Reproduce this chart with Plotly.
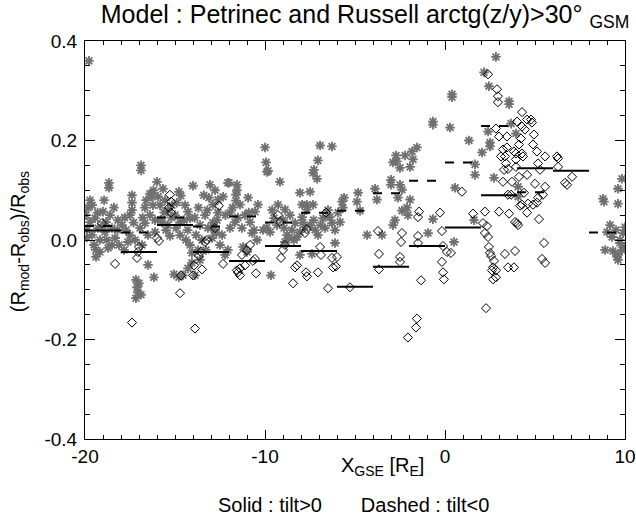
import plotly.graph_objects as go

# ---- data ----
gray_x = [-19.78, -19.83, -19.94, -19.72, -19.89, -19.61, -19.44, -19.28, -19.17, -19.5, -19.0, -18.83, -18.89,
          -18.67, -18.67, -18.61, -18.5, -18.72, -19.17, -19.39, -18.33, -18.17, -18.39, -19.72, -18.11, -18.94,
          -17.39, -17.39, -17.39, -17.94, -17.72, -17.5, -17.22, -17.61, -16.94, -16.67, -16.83, -16.5, -16.39,
          -16.28, -16.89, -16.89, -16.67, -16.39, -16.11, -16.22, -17.17, -17.11, -17.06, -17.17, -17.0, -16.89,
          -16.5, -16.17, -16.11, -17.83,
          -16.0, -15.67, -15.94, -15.83, -15.56, -15.39, -15.17, -15.0, -14.78, -14.67, -14.44, -14.28, -14.17,
          -14.72, -14.94, -15.72, -15.5, -15.28, -15.06, -14.78, -14.56, -14.28, -14.06, -14.72, -14.39, -14.06,
          -14.17,
          -14.0, -13.11, -12.33, -12.0, -13.06, -12.78, -12.61, -12.61, -12.67, -12.39, -12.5, -12.89, -13.33,
          -13.61, -13.83, -13.5, -13.72, -13.17, -12.94, -13.89, -13.61, -13.28, -12.83, -12.22, -12.06,
          -12.06, -11.56, -11.56, -11.61, -11.61, -11.94, -11.67, -11.94, -11.28, -10.72, -10.44, -11.22, -11.0,
          -10.11, -11.39, -11.11, -10.83, -10.56, -10.39, -10.94,
          -9.89, -10.0, -9.94, -9.83, -9.17, -9.5, -9.33, -8.94, -8.78, -8.67, -8.89, -8.39, -8.22, -8.33, -8.06,
          -8.06, -8.06, -9.67, -9.28, -8.89, -9.72, -8.61,
          -7.94, -7.67, -7.33, -7.67, -7.94, -7.5, -7.33, -7.11, -7.28, -6.94, -6.28, -7.06, -7.22, -7.06, -7.78,
          -7.5, -6.78, -6.39, -6.28, -6.67, -6.11, -7.39, -6.11,
          -5.61, -5.72, -5.83, -5.67, -5.94, -4.83, -4.89, -4.72, -4.33,
          -3.89, -3.78, -3.5, -3.0, -3.0, -2.89, -2.67, -2.72, -2.5, -2.5, -2.39, -2.61, -2.78, -2.89, -2.39,
          -2.11, -2.06, -2.22,
          -1.83, -1.56, -1.78, -1.94, -1.94, -0.94, -0.67, -0.67, -0.67,
          0.28, 0.39, 0.39, 0.56, 0.5, 1.33, 1.61, 1.67, 1.67,
          2.06, 2.17, 2.44, 2.83, 2.5, 2.5, 2.39, 2.72, 3.56, 3.56, 3.67, 3.94,
          4.06, 4.06,
          8.78, 8.83, 9.61, 9.83, 9.61, 9.17, 9.0, 9.28, 8.89, 9.33, 9.61, 9.72, 9.89, 10.0, 9.83, 9.56, 9.72,
          9.94, 9.5, 9.61,
          -19.6, -19.3, -19.0, -18.8, -18.5, -19.9, -19.4, -18.2, -17.8, -17.5, -17.3, -16.8, -16.6, -16.2,
          -15.8, -15.6, -15.4, -15.2, -14.9, -14.5, -14.3, -13.9, -13.7, -13.4, -13.2, -12.9, -12.7, -12.2,
          -11.8, -11.5, -10.9, -10.6, -9.9, -9.6, -9.0, -8.5, -7.9, -7.3, -6.9, -6.5]
gray_y = [0.36, 0.065, 0.05, 0.036, 0.02, 0.01, 0.044, 0.024, 0.0, -0.01, 0.057, 0.036, 0.016,
          0.115, 0.105, 0.05, 0.024, -0.016, -0.024, -0.034, 0.004, 0.04, 0.065, 0.08, -0.01, 0.08,
          0.09, 0.075, 0.06, 0.03, 0.02, 0.01, 0.0, -0.004, 0.024, 0.034, -0.01, 0.01, 0.093,
          0.087, 0.15, 0.14, 0.065, 0.05, 0.04, 0.07, -0.08, -0.095, -0.105, -0.117, -0.087, -0.11,
          -0.05, -0.075, 0.016, -0.02,
          0.117, 0.103, 0.087, 0.07, 0.08, 0.06, 0.07, 0.05, 0.097, 0.089, 0.07, 0.057, 0.044,
          0.036, 0.024, 0.036, 0.02, 0.008, -0.069, -0.075, -0.071, -0.057, -0.046, 0.01, 0.0, -0.026,
          -0.01,
          0.109, 0.085, 0.087, 0.115, 0.111, 0.1, 0.081, 0.055, 0.04, 0.01, -0.01, 0.071, 0.05,
          0.03, 0.01, 0.0, -0.02, 0.024, 0.004, -0.071, -0.04, -0.02, 0.02, -0.03, -0.02,
          0.115, 0.111, 0.1, 0.091, 0.079, 0.055, 0.036, 0.024, 0.024, 0.014, 0.0, -0.014, -0.024,
          0.02, 0.071, 0.05, 0.036, 0.057, 0.071, 0.085,
          0.137, 0.186, 0.156, 0.139, 0.117, 0.044, 0.03, 0.024, 0.01, 0.004, -0.004, 0.0, 0.006, 0.034, 0.016,
          0.095, -0.03, -0.071, 0.071, 0.061, 0.016, 0.05,
          0.071, 0.071, 0.071, 0.061, 0.046, 0.097, 0.135, 0.123, 0.141, 0.19, 0.188, 0.16, 0.02, 0.01, 0.026,
          0.03, 0.044, 0.046, 0.034, 0.024, 0.02, -0.028, -0.006,
          0.085, 0.077, 0.036, 0.065, 0.055, 0.095, 0.077, 0.059, 0.01,
          0.103, 0.081, 0.01, 0.121, 0.111, 0.156, 0.158, 0.17, 0.145, 0.111, 0.101, 0.085, 0.04, 0.03, 0.059,
          0.065, 0.05, 0.17,
          0.178, 0.186, 0.162, 0.147, 0.081, 0.014, 0.042, 0.238, 0.232,
          0.226, 0.293, 0.287, 0.105, -0.004, 0.2, 0.04, 0.152, 0.131,
          0.176, 0.337, 0.309, 0.368, 0.196, 0.188, 0.218, 0.125, 0.279, 0.273, 0.234, 0.214,
          0.107, 0.087,
          0.083, 0.077, 0.073, 0.123, 0.103, 0.03, 0.016, 0.006, -0.02, -0.022, -0.03, -0.006, 0.014, 0.026,
          -0.02, -0.034, 0.0, -0.014, 0.02, -0.04,
          0.07, 0.055, 0.03, 0.0, -0.01, 0.005, -0.02, 0.02, 0.045, 0.05, 0.035, 0.045, 0.08, 0.1,
          0.04, 0.055, 0.03, 0.045, 0.075, 0.04, 0.02, 0.045, 0.065, 0.09, 0.06, 0.035, 0.015, 0.05,
          0.065, 0.045, 0.055, 0.02, 0.025, 0.06, 0.04, 0.02, 0.035, 0.04, 0.03, 0.06]

dia_x = [-18.33, -19.06, -17.11, -17.06, -17.0, -17.39, -16.0, -15.89, -15.28, -15.22, -15.33, -15.22,
         -14.72, -14.67, -13.89, -14.0, -13.5, -13.94, -13.67, -13.56, -13.33, -13.22, -12.78, -12.56,
         -12.33, -11.56, -11.5, -11.39, -11.39, -11.11, -11.28, -11.0, -10.83, -10.56, -10.67, -10.5,
         -9.28, -9.17, -9.11, -9.0, -8.89, -8.44, -8.33, -8.22, -7.78, -7.67, -7.72, -7.67, -7.06, -6.94,
         -6.89, -6.5, -6.28, -6.22, -6.06, -6.0, -6.61, -5.28,
         -3.72, -3.67, -3.67, -2.5, -2.5, -2.39, -2.44, -1.5, -1.5, -1.5, -1.44, -1.33, -1.56, -1.61, -2.06,
         -0.28, -0.17, -0.11, 0.11, 0.33, -0.17, -0.11, -0.06, 0.94, 1.56,
         2.22, 2.11, 2.33, 2.22, 2.39, 2.44, 2.5, 2.56, 2.72, 2.67, 2.83, 2.61, 2.67, 2.83, 2.28,
         3.0, 3.56, 3.33, 3.5, 3.83, 3.89, 4.0, 4.06, 4.28, 4.61, 4.56, 5.11, 5.22, 5.5, 5.39, 5.56,
         2.39, 2.89, 2.94, 2.94, 4.28, 4.0, 4.56, 4.78, 4.83, 4.28, 4.44, 4.94, 2.83, 3.0, 3.44, 4.22, 4.11,
         4.89, 3.22, 3.44, 3.83, 3.94, 4.28, 4.33, 5.11, 3.11, 3.33, 5.56, 3.94, 3.39, 3.5, 3.94, 3.28,
         6.22, 6.28, 5.17, 6.28, 5.28, 4.56, 4.11, 7.06, 3.22, 3.72, 5.0, 5.56, 6.67, 6.78, 3.5, 3.67, 4.39,
         5.17, 5.44, 4.89, 4.17, 3.89]
dia_y = [-0.048, 0.034, -0.036, -0.024, -0.014, -0.166, 0.004, -0.002, 0.091, 0.077, 0.065, 0.055,
         -0.107, -0.071, -0.178, -0.071, -0.059, -0.051, -0.032, -0.024, -0.004, 0.0, 0.024, 0.069,
         -0.048, -0.061, -0.065, -0.057, -0.071, -0.051, -0.03, -0.02, -0.01, -0.038, -0.042, -0.067,
         0.05, 0.036, -0.036, -0.02, -0.01, -0.087, -0.055, -0.051, 0.014, 0.022, -0.065, -0.073, -0.065, -0.014,
         -0.03, -0.097, -0.036, -0.055, -0.053, -0.034, 0.055, -0.095,
         0.018, -0.028, -0.059, -0.034, -0.044, 0.014, -0.004, 0.008, -0.006, 0.046, 0.057, -0.081, -0.158,
         -0.176, -0.196,
         0.055, 0.018, -0.012, -0.024, -0.026, -0.044, -0.065, -0.079, 0.097, 0.053,
         0.057, 0.034, 0.028, 0.014, 0.006, -0.014, -0.026, -0.032, -0.042, -0.055, -0.061, -0.061, -0.079,
         -0.075, -0.137,
         0.057, 0.053, -0.028, -0.055, -0.055, -0.022, 0.034, 0.03, 0.071, 0.073, 0.055, 0.075, 0.042, -0.006,
         -0.038, -0.046,
         0.333, 0.303, 0.289, 0.277, 0.257, 0.238, 0.242, 0.242, 0.236, 0.228, 0.222, 0.212, 0.224, 0.208,
         0.208, 0.204, 0.192, 0.192, 0.182, 0.186, 0.178, 0.174, 0.174, 0.168, 0.178, 0.168, 0.168, 0.168,
         0.162, 0.154, 0.143, 0.147, 0.141,
         0.168, 0.164, 0.154, 0.147, 0.141, 0.131, 0.127, 0.127, 0.117, 0.117, 0.113, 0.107, 0.115, 0.111,
         0.091, 0.091, 0.095, 0.085, 0.091, 0.071, 0.069, 0.036]

bin_left = [-20, -18, -16, -14, -12, -10, -8, -6, -4, -2, 0, 2, 4, 6, 8]
bin_width = 2
solid_vals = [0.019, -0.024, 0.030, -0.024, -0.042, -0.012, -0.022, -0.094, -0.054, -0.012, 0.025, 0.090,
              0.144, 0.139, None]
dashed_vals = [0.028, 0.015, 0.045, 0.027, 0.047, 0.035, 0.055, 0.059, 0.094, 0.119, 0.156, 0.229,
               0.096, None, 0.015]

x_range = [-20, 10]
y_range = [-0.4, 0.4]
x_ticks = [-20, -10, 0, 10]
x_tick_text = ["-20", "-10", "0", "10"]
y_ticks = [-0.4, -0.2, 0.0, 0.2, 0.4]
y_tick_text = ["-0.4", "-0.2", "0.0", "0.2", "0.4"]


def seg_xy(vals):
    xs, ys = [], []
    for left, v in zip(bin_left, vals):
        if v is None:
            continue
        xs += [left, left + bin_width, None]
        ys += [v, v, None]
    return xs, ys


FONT = "Liberation Sans, Arial, Helvetica, sans-serif"
GRAY = "rgb(112,112,112)"
fig = go.Figure()
fig.add_trace(go.Scatter(x=gray_x, y=gray_y, mode="markers",
                         marker=dict(symbol="asterisk-open", size=8, color=GRAY,
                                     line=dict(color=GRAY, width=1.8)),
                         showlegend=False, hoverinfo="skip"))
fig.add_trace(go.Scatter(x=dia_x, y=dia_y, mode="markers",
                         marker=dict(symbol="diamond-open", size=7, color="black",
                                     line=dict(color="black", width=1)),
                         showlegend=False, hoverinfo="skip"))
sx, sy = seg_xy(solid_vals)
fig.add_trace(go.Scatter(x=sx, y=sy, mode="lines", line=dict(color="black", width=2),
                         showlegend=False, hoverinfo="skip"))
dx, dy = seg_xy(dashed_vals)
fig.add_trace(go.Scatter(x=dx, y=dy, mode="lines", line=dict(color="black", width=2, dash="9px,9px"),
                         showlegend=False, hoverinfo="skip"))
# invisible trace so the mirrored (top/right) axes with minor ticks are drawn
fig.add_trace(go.Scatter(x=[x_range[0]], y=[y_range[0]], xaxis="x2", yaxis="y2", mode="markers",
                         marker=dict(opacity=0), showlegend=False, hoverinfo="skip"))

fig.update_layout(
    width=636, height=525,
    margin=dict(l=85, r=11, t=41, b=86, autoexpand=False),
    paper_bgcolor="white", plot_bgcolor="white",
    font=dict(family=FONT, color="black", size=19),
    title=dict(text="Model : Petrinec and Russell arctg(z/y)&gt;30° <sub>GSM</sub>",
               x=0.574, xanchor="center", y=0.973, yanchor="middle",
               font=dict(size=25, family=FONT)),
    annotations=[
        dict(text="Solid : tilt&gt;0       Dashed : tilt&lt;0", xref="paper", yref="paper",
             x=0.497, y=-0.166, xanchor="center", yanchor="middle", showarrow=False,
             font=dict(size=20, family=FONT)),
        dict(text="X<sub>GSE</sub> [R<sub>E</sub>]", xref="paper", yref="paper",
             x=0.55, y=-0.068, xanchor="center", yanchor="middle", showarrow=False,
             font=dict(size=20, family=FONT)),
        dict(text="(R<sub>mod</sub>-R<sub>obs</sub>)/R<sub>obs</sub>", xref="paper", yref="paper",
             x=-0.12, y=0.495, xanchor="center", yanchor="middle", showarrow=False, textangle=-90,
             font=dict(size=20, family=FONT)),
    ],
    xaxis=dict(range=x_range, tickvals=x_ticks, ticktext=x_tick_text, ticks="inside", ticklen=9, tickwidth=1,
               tickcolor="black", showline=True, linecolor="black", linewidth=1, mirror=True, showgrid=False,
               zeroline=False, tickfont=dict(size=19), automargin=False,
               minor=dict(dtick=1, ticks="inside", ticklen=4, tickwidth=1, tickcolor="black", showgrid=False)),
    yaxis=dict(range=y_range, tickvals=y_ticks, ticktext=y_tick_text, ticks="inside", ticklen=10,
               tickwidth=1, tickcolor="black", showline=True, linecolor="black", linewidth=1, mirror=True,
               showgrid=False, zeroline=False, tickfont=dict(size=19), automargin=False,
               ticklabelstandoff=3,
               minor=dict(dtick=0.05, ticks="inside", ticklen=5, tickwidth=1, tickcolor="black", showgrid=False)),
    xaxis2=dict(range=x_range, overlaying="x", side="top", anchor="y2", tickvals=x_ticks, ticks="inside",
                ticklen=9, tickwidth=1, tickcolor="black", showticklabels=False, showgrid=False,
                zeroline=False, showline=False, automargin=False,
                minor=dict(dtick=1, ticks="inside", ticklen=4, tickwidth=1, tickcolor="black", showgrid=False)),
    yaxis2=dict(range=y_range, overlaying="y", side="right", anchor="x2", tickvals=y_ticks, ticks="inside",
                ticklen=10, tickwidth=1, tickcolor="black", showticklabels=False, showgrid=False,
                zeroline=False, showline=False, automargin=False,
                minor=dict(dtick=0.05, ticks="inside", ticklen=5, tickwidth=1, tickcolor="black", showgrid=False)),
)

fig.write_html("out.html", config={"displayModeBar": False},
               post_script="document.body.style.margin='0px';document.body.style.overflow='hidden';")
